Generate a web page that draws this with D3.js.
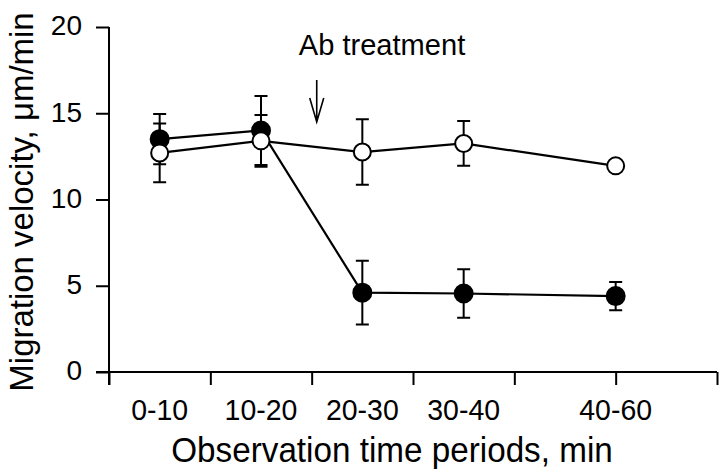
<!DOCTYPE html>
<html><head><meta charset="utf-8">
<script src="https://cdn.jsdelivr.net/npm/d3@7"></script>
<style>
body{margin:0;background:#fff;}
text{font-family:"Liberation Sans",Arial,sans-serif;fill:#000;}
</style></head>
<body><svg id="c" width="720" height="472"></svg>
<script>
const periods = ["0-10","10-20","20-30","30-40","40-60"];
const midTimes = [5,15,25,35,50];
const treatedMean = [13.5,14.0,4.6,4.55,4.4];
const treatedErr = [1.45,2.0,1.85,1.4,0.82];
const controlMean = [12.7,13.4,12.75,13.25,11.95];
const controlErr = [1.7,1.5,1.9,1.3,0];
const yTicks = [0,5,10,15,20];
const xTicks = [0,10,20,30,40,50,60];
const treatmentTime = 20.5;
const annotation = "Ab treatment";

const svg = d3.select("#c");
const x = d3.scaleLinear().domain([0,60]).range([109,717]);
const y = d3.scaleLinear().domain([0,20]).range([372,27]);

// y axis
const ya = svg.append("g").attr("transform","translate(109,0)")
  .call(d3.axisLeft(y).tickValues(yTicks).tickSize(13).tickSizeOuter(0).tickPadding(14));
ya.select(".domain").attr("d",`M0,${y(20)}V385`).attr("stroke","#000").attr("stroke-width",2);
ya.selectAll(".tick line").attr("stroke","#000").attr("stroke-width",2);
ya.selectAll(".tick text").style("font-size","28px").style("font-family","Liberation Sans").attr("fill","#000").attr("dy","0.28em");

// x axis
const xa = svg.append("g").attr("transform","translate(0,372)")
  .call(d3.axisBottom(x).tickValues(xTicks).tickSize(13).tickSizeOuter(0).tickFormat(""));
xa.select(".domain").attr("d",`M96,0H717`).attr("stroke","#000").attr("stroke-width",2);
xa.selectAll(".tick line").attr("stroke","#000").attr("stroke-width",2);

// category labels
svg.append("g").selectAll("text").data(periods).join("text")
  .attr("transform",(d,i)=>`translate(${x(midTimes[i])},420) scale(0.95,1)`)
  .attr("text-anchor","middle").style("font-size","30px").text(d=>d);

svg.append("text").attr("transform","translate(392,462) scale(0.95,1)").attr("text-anchor","middle")
  .style("font-size","35px").text("Observation time periods, min");
svg.append("text").attr("transform","translate(33,202) rotate(-90) scale(0.97,1)").attr("text-anchor","middle")
  .style("font-size","34px").text("Migration velocity, μm/min");

// annotation
svg.append("text").attr("transform",`translate(${x(treatmentTime)-18},55) scale(0.97,1)`)
  .style("font-size","30px").text(annotation);
const ax = x(treatmentTime);
svg.append("path").attr("d",`M${ax},80V122M${ax-7},98L${ax},122L${ax+7},98`)
  .attr("fill","none").attr("stroke","#000").attr("stroke-width",1.6);

function series(mean, err, fill){
  const g = svg.append("g");
  const pts = mean.map((m,i)=>({t:midTimes[i],m,e:err[i]}));
  g.append("path").datum(pts).attr("d",d3.line().x(d=>x(d.t)).y(d=>y(d.m)))
    .attr("fill","none").attr("stroke","#000").attr("stroke-width",2.2);
  g.selectAll(".eb").data(pts.filter(d=>d.e>0)).join("path")
    .attr("d",d=>{const cx=x(d.t),y1=y(d.m+d.e),y2=y(d.m-d.e);
      return `M${cx},${y1}V${y2}M${cx-6.5},${y1}H${cx+6.5}M${cx-6.5},${y2}H${cx+6.5}`;})
    .attr("fill","none").attr("stroke","#000").attr("stroke-width",2);
  g.selectAll("circle").data(pts).join("circle")
    .attr("cx",d=>x(d.t)).attr("cy",d=>y(d.m)).attr("r",fill?9:8.5)
    .attr("fill",fill?"#000":"#fff").attr("stroke","#000").attr("stroke-width",2);
}
series(treatedMean, treatedErr, true);
series(controlMean, controlErr, false);
</script></body></html>
